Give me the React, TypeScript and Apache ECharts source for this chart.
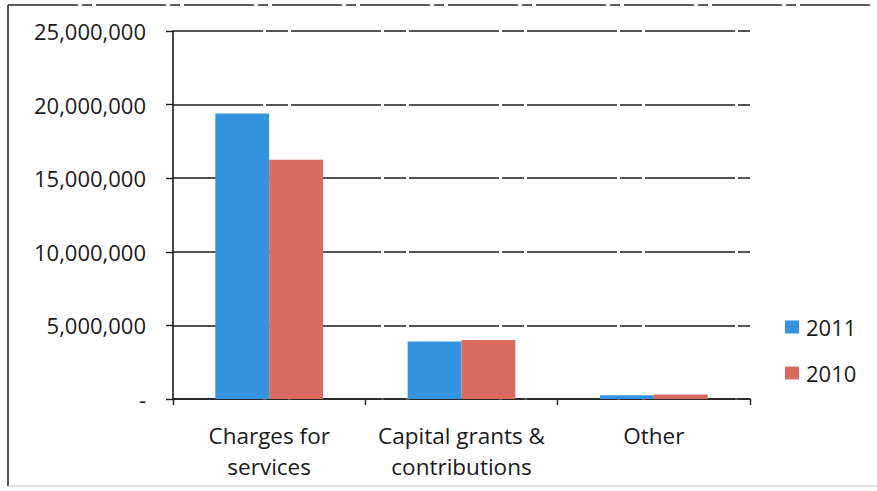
import React, { useEffect, useRef } from "react";
import * as echarts from "echarts";

const categories = ["Charges for\nservices", "Capital grants &\ncontributions", "Other"];
const seriesNames = ["2011", "2010"];
const values2011 = [19400000, 3900000, 250000];
const values2010 = [16250000, 4000000, 300000];
const colors = ["#3393df", "#d96a62"];
const yTicks = { min: 0, max: 25000000, interval: 5000000 };

const FONT = "'Open Sans', Lato, sans-serif";

function formatTick(v: number): string {
  if (v === 0) return "-";
  return v.toLocaleString("en-US");
}

export default function App() {
  const ref = useRef<HTMLDivElement>(null);

  useEffect(() => {
    if (!ref.current) return;
    const chart = echarts.init(ref.current, null, { renderer: "svg" });
    const gridLine = { color: "#1c1c1c", width: 1.6, type: [90, 3, 22, 3] as number[] };
    chart.setOption({
      animation: false,
      backgroundColor: "#ffffff",
      textStyle: { fontFamily: FONT },
      grid: { left: 173, right: 127, top: 31, bottom: 92, containLabel: false },
      legend: {
        orient: "vertical",
        left: 780,
        top: 309,
        itemWidth: 14,
        itemHeight: 13,
        itemGap: 20,
        icon: "rect",
        data: seriesNames,
        textStyle: { fontFamily: FONT, fontSize: 22, color: "#1a1a1a", lineHeight: 26, padding: [0, 0, 0, 2] },
      },
      xAxis: {
        type: "category",
        data: categories,
        axisLine: { lineStyle: { color: "#1c1c1c", width: 1.6 } },
        axisTick: { show: true, length: 6, lineStyle: { color: "#1c1c1c", width: 1.4 } },
        axisLabel: {
          interval: 0,
          margin: 21,
          fontFamily: FONT,
          fontSize: 22.5,
          lineHeight: 31,
          color: "#1a1a1a",
        },
      },
      yAxis: {
        type: "value",
        min: yTicks.min,
        max: yTicks.max,
        interval: yTicks.interval,
        axisLine: { show: true, lineStyle: { color: "#1c1c1c", width: 1.6 } },
        axisTick: { show: true, length: 7, lineStyle: { color: "#1c1c1c", width: 1.4 } },
        splitLine: { show: true, lineStyle: gridLine },
        axisLabel: {
          margin: 27,
          fontFamily: FONT,
          fontSize: 22,
          color: "#1a1a1a",
          formatter: formatTick,
        },
      },
      series: [
        {
          name: seriesNames[0],
          type: "bar",
          data: values2011,
          itemStyle: { color: colors[0] },
          barGap: "0%",
          barCategoryGap: "44%",
        },
        {
          name: seriesNames[1],
          type: "bar",
          data: values2010,
          itemStyle: { color: colors[1] },
          barGap: "0%",
          barCategoryGap: "44%",
        },
      ],
      graphic: [
        { type: "line", shape: { x1: 8, y1: 5, x2: 8, y2: 486 }, style: { stroke: "#2a2a2a", lineWidth: 1.6 } },
        { type: "line", shape: { x1: 8, y1: 5, x2: 872, y2: 5 }, style: { stroke: "#2a2a2a", lineWidth: 1.6, lineDash: [70, 4, 10, 4] } },
        { type: "line", shape: { x1: 8, y1: 486, x2: 877, y2: 486 }, style: { stroke: "#c4c4c4", lineWidth: 1.2 } },
      ],
    });
    return () => chart.dispose();
  }, []);

  return <div ref={ref} style={{ position: "absolute", left: 0, top: 0, width: 877, height: 491 }} />;
}
